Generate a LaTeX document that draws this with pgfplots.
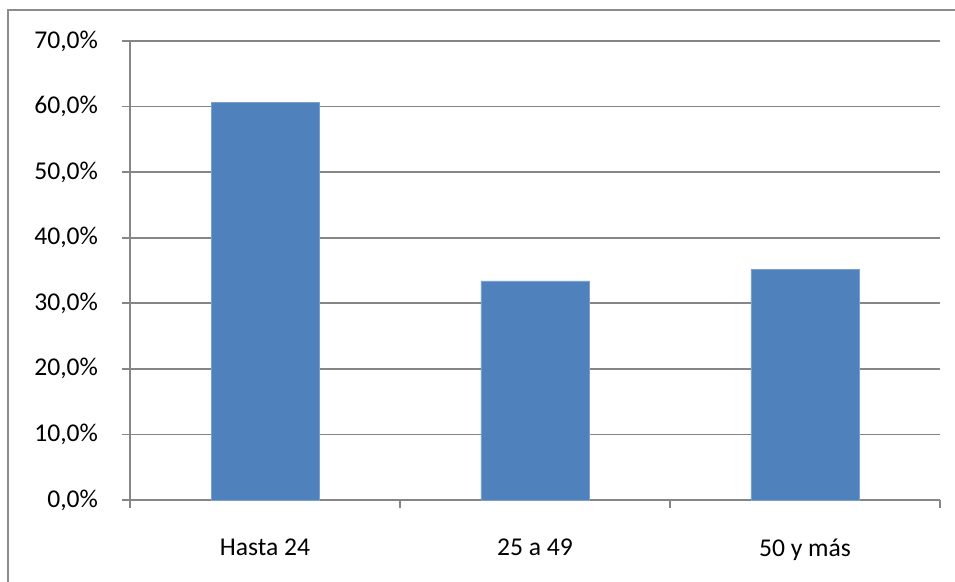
\documentclass[border=0pt]{standalone}
\usepackage{pgfplots}
\pgfplotsset{compat=1.18}
\usepackage{fontspec}
\setmainfont{Carlito}
\definecolor{barblue}{HTML}{4F81BD}
\definecolor{gridgray}{HTML}{868686}
\definecolor{framegray}{HTML}{8C8C8C}

\begin{document}
\begin{tikzpicture}
\begin{axis}[
  at={(65pt,41pt)}, anchor=south west,
  scale only axis,
  width=405pt, height=229.5pt,
  xmin=-0.5, xmax=2.5,
  ymin=0, ymax=70,
  axis x line=bottom, axis y line=left,
  axis line style={gridgray, line width=0.8pt, -},
  xtick={0,1,2},
  xticklabels={Hasta 24, 25 a 49, 50 y más},
  major x tick style={draw=none},
  minor xtick={-0.5,0.5,1.5,2.5},
  minor tick length=4pt,
  minor x tick style={gridgray, line width=0.8pt},
  ytick={0,10,...,70},
  major tick length=4pt,
  tick align=outside,
  ytick style={gridgray, line width=0.8pt},
  ymajorgrids,
  grid style={gridgray, line width=0.8pt},
  /pgf/number format/assume math mode=true,
  yticklabel={\pgfmathprintnumber[fixed, fixed zerofill, precision=1, use comma]{\tick}\%},
  yticklabel style={font=\fontsize{12.8}{14}\selectfont, xshift=-8.5pt},
  xticklabel style={font=\fontsize{12.8}{14}\selectfont, yshift=-12pt},
  ybar, bar width=54pt,
  clip=false,
]
\addplot[fill=barblue, draw=barblue!75!white, line width=0.4pt]
  coordinates {(0,60.6) (1,33.4) (2,35.2)};
\end{axis}
% outer chart frame
\draw[framegray, line width=1pt] (4pt,-10pt) -- (4pt,286pt) -- (490pt,286pt);
\pgfresetboundingbox
\path[use as bounding box] (0pt,0pt) rectangle (477.5pt,291pt);
\end{tikzpicture}
\end{document}
